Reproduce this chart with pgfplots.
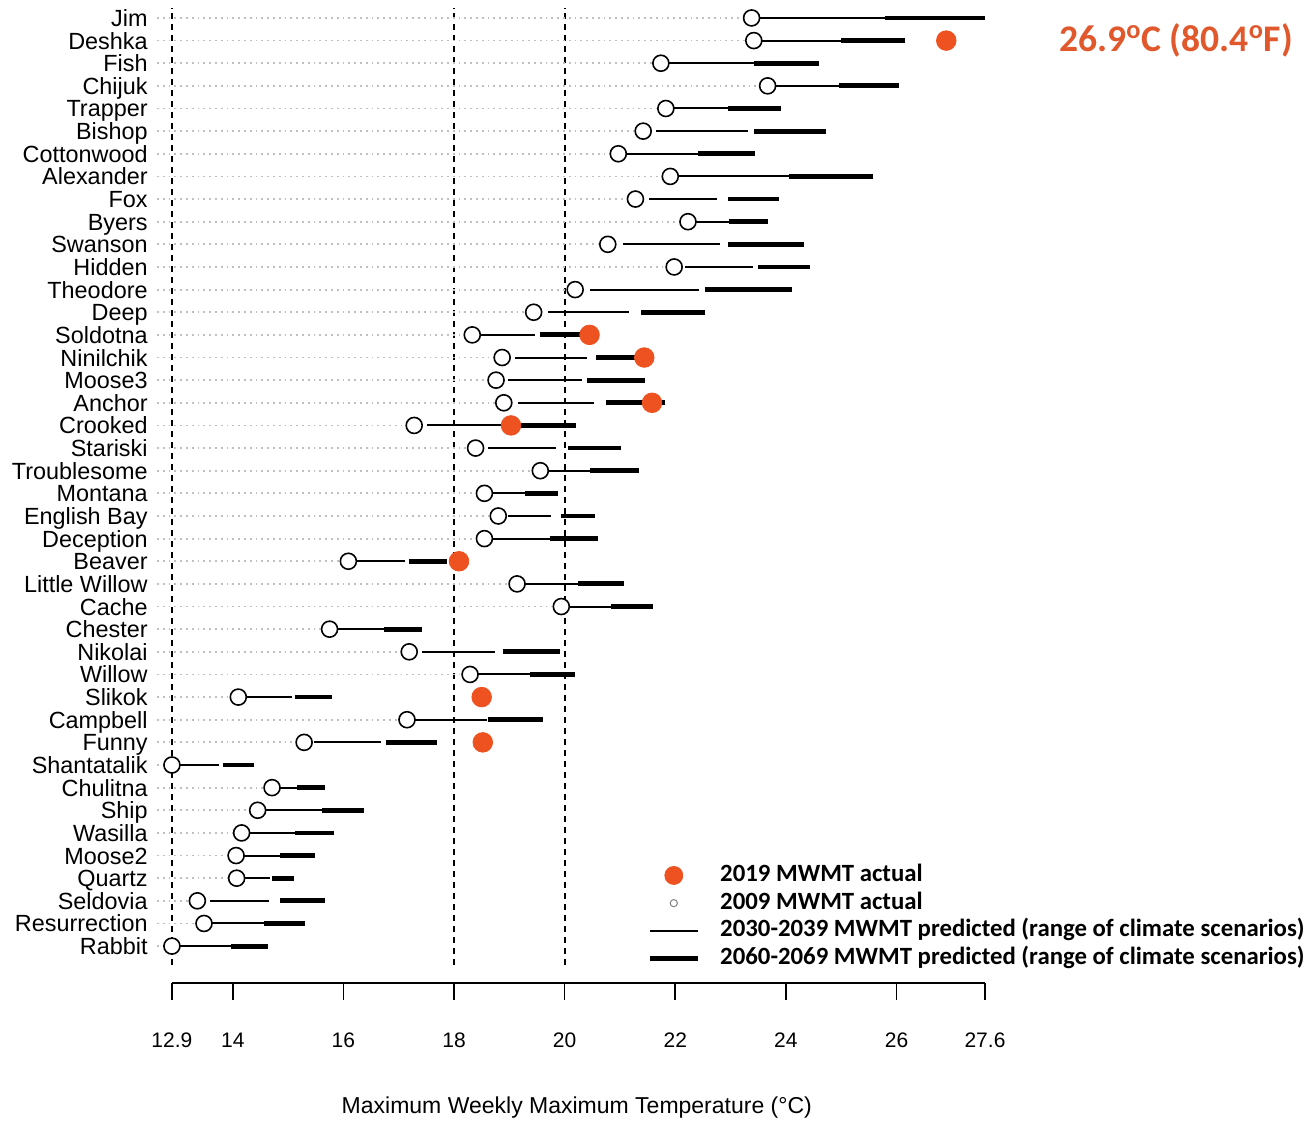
\documentclass[border=0pt]{standalone}
\usepackage{fontspec}
\setmainfont{Liberation Sans}
\newfontfamily\calib{Carlito}
\usepackage{pgfplots}
\pgfplotsset{compat=1.18}
\usepackage{pgfplotstable}
\definecolor{dotred}{HTML}{EE5220}
\definecolor{notered}{HTML}{E0582C}

% one row per stream, bottom (Rabbit) to top (Jim)
% circ = 2009 actual, tlo/thi = 2030-2039 range, klo/khi = 2060-2069 range
\pgfplotstableread{
row name circ tlo thi klo khi
1 Rabbit 12.90 12.90 13.96 13.96 14.63
2 Resurrection 13.48 13.48 14.56 14.56 15.31
3 Seldovia 13.36 13.58 14.66 14.86 15.67
4 Quartz 14.07 14.07 14.68 14.71 15.11
5 Moose2 14.06 14.06 14.86 14.86 15.48
6 Wasilla 14.16 14.16 15.13 15.13 15.83
7 Ship 14.45 14.45 15.61 15.61 16.38
8 Chulitna 14.71 14.71 15.28 15.16 15.67
9 Shantatalik 12.90 12.90 13.75 13.83 14.38
10 Funny 15.29 15.46 16.68 16.77 17.69
11 Campbell 17.15 17.15 18.59 18.62 19.61
12 Slikok 14.10 14.10 15.07 15.12 15.79
13 Willow 18.29 18.29 19.37 19.37 20.18
14 Nikolai 17.19 17.43 18.74 18.89 19.91
15 Chester 15.75 15.75 16.74 16.74 17.42
16 Cache 19.94 19.94 20.84 20.84 21.59
17 {Little Willow} 19.14 19.14 20.24 20.24 21.08
18 Beaver 16.09 16.23 17.11 17.19 17.87
19 Deception 18.55 18.55 19.73 19.73 20.61
20 {English Bay} 18.80 18.97 19.76 19.93 20.54
21 Montana 18.55 18.55 19.28 19.28 19.88
22 Troublesome 19.56 19.56 20.45 20.45 21.35
23 Stariski 18.39 18.62 19.85 20.06 21.02
24 Crooked 17.28 17.52 19.00 19.05 20.21
25 Anchor 18.90 19.16 20.53 20.74 21.82
26 Moose3 18.76 18.97 20.31 20.41 21.46
27 Ninilchik 18.87 19.10 20.41 20.57 21.40
28 Soldotna 18.33 18.47 19.46 19.55 20.35
29 Deep 19.44 19.70 21.17 21.38 22.54
30 Theodore 20.19 20.45 22.43 22.54 24.11
31 Hidden 21.98 22.18 23.41 23.50 24.43
32 Swanson 20.78 21.05 22.81 22.95 24.32
33 Byers 22.23 22.23 22.98 22.98 23.68
34 Fox 21.28 21.52 22.75 22.95 23.88
35 Alexander 21.91 21.91 24.06 24.06 25.57
36 Cottonwood 20.97 20.97 22.41 22.41 23.44
37 Bishop 21.42 21.65 23.32 23.43 24.72
38 Trapper 21.83 21.83 22.95 22.95 23.91
39 Chijuk 23.67 23.67 24.96 24.96 26.04
40 Fish 21.74 21.74 23.43 23.43 24.60
41 Deshka 23.42 23.42 25.00 25.00 26.15
42 Jim 23.38 23.38 25.80 25.80 27.60
}\streams

% 2019 actual
\pgfplotstableread{
row val
10 18.52
12 18.50
18 18.09
24 19.03
25 21.58
27 21.44
28 20.45
41 26.90
}\recent

\begin{document}
\begin{tikzpicture}
\begin{axis}[
  scale only axis, width=414pt, height=487.5pt,
  xmin=12.63, xmax=27.6, ymin=-0.63, ymax=42.44,
  axis line style={draw=none},
  clip mode=individual,
  xtick={12.9,14,16,18,20,22,24,26,27.6},
  xticklabels={12.9,14,16,18,20,22,24,26,27.6},
  xtick pos=bottom, tick align=outside,
  major tick length=8.5pt,
  xtick style={black, line width=0.8pt},
  xticklabel style={font=\fontsize{10.5}{12}\selectfont, yshift=-13pt},
  ytick={1,...,42},
  yticklabels from table={\streams}{name},
  ytick style={draw=none},
  yticklabel style={font=\fontsize{11.7}{13}\selectfont, inner sep=0pt, xshift=4pt, yshift=-1.5pt,
    text height=7pt, text depth=1.5pt},
  xlabel={Maximum Weekly Maximum Temperature (°C)},
  xlabel style={font=\fontsize{11.5}{13}\selectfont, at={(axis description cs:0.507,0)}, anchor=center, yshift=-62.5pt},
  legend image code/.code={\draw[mark repeat=2,mark phase=2,#1] plot coordinates {(0pt,0pt) (12pt,0pt) (24pt,0pt)};},
  legend cell align=left,
  legend style={at={(axis description cs:0.5918,0.122)}, anchor=north west, draw=none, fill=none,
    inner sep=0pt, font=\calib\bfseries\fontsize{12.4}{14}\selectfont, row sep=2.85pt,
    nodes={inner sep=0pt, text height=8.5pt, text depth=2.5pt},
    /tikz/every odd column/.append style={column sep=10pt}},
]
% dashed reference lines
\draw[dashed, dash pattern=on 3pt off 2.5pt, line width=1pt] (axis cs:12.9,0.16) -- (axis cs:12.9,42.44);
\draw[dashed, dash pattern=on 3pt off 2.5pt, line width=1pt] (axis cs:18,0.16) -- (axis cs:18,42.44);
\draw[dashed, dash pattern=on 3pt off 2.5pt, line width=1pt] (axis cs:20,0.16) -- (axis cs:20,42.44);
% x axis line from 12.9 to 27.6
\draw[line width=0.8pt] (axis cs:12.9,-0.63) -- (axis cs:27.6,-0.63);

% gray dotted guides to each 2009 point
\addplot[xcomb, mark=none, gray!50, dotted, line width=0.9pt, forget plot]
  table[x=circ, y=row] {\streams};
% 2030-2039 range
\addplot[mark=none, draw=none, forget plot,
  error bars/.cd, x dir=both, x explicit, error mark=none,
  error bar style={draw=black, solid, line width=1pt}]
  table[x expr={(\thisrow{tlo}+\thisrow{thi})/2}, y=row,
        x error expr={(\thisrow{thi}-\thisrow{tlo})/2}] {\streams};
% 2060-2069 range
\addplot[mark=none, draw=none, forget plot,
  error bars/.cd, x dir=both, x explicit, error mark=none,
  error bar style={draw=black, solid, line width=2.4pt}]
  table[x expr={(\thisrow{klo}+\thisrow{khi})/2}, y=row,
        x error expr={(\thisrow{khi}-\thisrow{klo})/2}] {\streams};
% 2009 actual
\addplot[only marks, mark=*, mark size=4pt, forget plot,
  mark options={fill=white, draw=black, line width=0.8pt}]
  table[x=circ, y=row] {\streams};
% 2019 actual
\addplot[only marks, mark=*, mark size=4.9pt, forget plot,
  mark options={fill=dotred, draw=dotred}]
  table[x=val, y=row] {\recent};

\addlegendimage{only marks, mark=*, mark size=4.5pt, mark options={fill=dotred, draw=dotred}}
\addlegendentry{2019 MWMT actual}
\addlegendimage{only marks, mark=*, mark size=1.8pt, mark options={fill=white, draw=gray, line width=0.5pt}}
\addlegendentry{2009 MWMT actual}
\addlegendimage{black, line width=1pt}
\addlegendentry{2030-2039 MWMT predicted (range of climate scenarios)}
\addlegendimage{black, line width=2.4pt}
\addlegendentry{2060-2069 MWMT predicted (range of climate scenarios)}
\end{axis}
\node[font=\calib\bfseries\fontsize{18.8}{21}\selectfont, text=notered] at (509.5pt,471.5pt)
  {26.9\textsuperscript{o}C (80.4\textsuperscript{o}F)};
\path[use as bounding box] (-78.5pt,-67pt) rectangle (577pt,491.5pt);
\end{tikzpicture}
\end{document}
